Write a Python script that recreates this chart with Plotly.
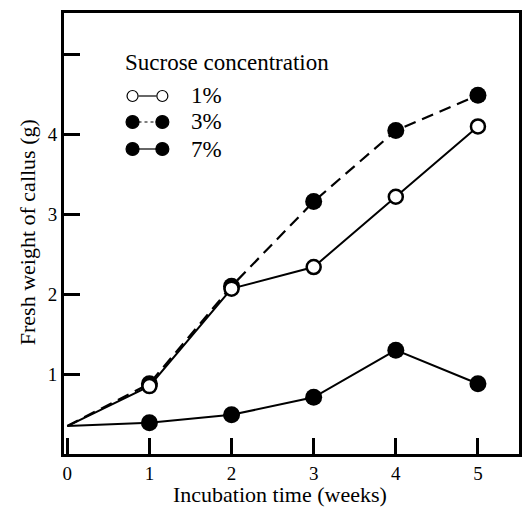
import plotly.graph_objects as go

weeks = [0, 1, 2, 3, 4, 5]
sucrose_1 = [0.35, 0.85, 2.07, 2.34, 3.22, 4.10]
sucrose_3 = [0.35, 0.88, 2.10, 3.16, 4.05, 4.49]
sucrose_7 = [0.35, 0.39, 0.49, 0.71, 1.30, 0.88]
legend_title = "Sucrose concentration"
legend_labels = ["1%", "3%", "7%"]
x_ticks = [0, 1, 2, 3, 4, 5]
y_ticks = [1, 2, 3, 4, 5]
y_ticklabels = ["1", "2", "3", "4", ""]

FONT = "Liberation Serif"
W, H = 525, 508
L, R, T, B = 64, 3, 13, 54

def px(x):
    return (x - L) / (W - L - R)

def py(y):
    return (H - B - y) / (H - T - B)

msize = [0, 17, 17, 17, 17, 17]
osize = [0, 14, 14, 14, 14, 14]

fig = go.Figure()
fig.add_trace(go.Scatter(x=weeks, y=sucrose_3, mode="lines+markers",
                         line=dict(color="black", width=2.2, dash="12px,7px"),
                         marker=dict(size=msize, color="black", opacity=1,
                                     line=dict(width=0)), showlegend=False))
fig.add_trace(go.Scatter(x=weeks, y=sucrose_7, mode="lines+markers",
                         line=dict(color="black", width=2),
                         marker=dict(size=msize, color="black", opacity=1,
                                     line=dict(width=0)), showlegend=False))
fig.add_trace(go.Scatter(x=weeks, y=sucrose_1, mode="lines+markers",
                         line=dict(color="black", width=2),
                         marker=dict(size=osize, color="white", opacity=1,
                                     line=dict(color="black", width=2.5)),
                         showlegend=False))

shapes = []
annotations = []
# legend
annotations.append(dict(text=legend_title, x=px(123), y=py(62), xref="paper", yref="paper",
                        xanchor="left", yanchor="middle", showarrow=False,
                        font=dict(family=FONT, size=23, color="black")))
rows = [96, 122, 149]
styles = [("white", "solid", 1.2), ("black", "dot", 1.2), ("black", "solid", 1.2)]
for (fill, dash, lw), yy, lab in zip(styles, rows, legend_labels):
    shapes.append(dict(type="line", xref="paper", yref="paper",
                       x0=px(139), x1=px(157), y0=py(yy), y1=py(yy),
                       line=dict(color="black", width=lw, dash=dash)))
    for cx in (133, 163):
        r = 5.5 if fill == "white" else 6.5
        shapes.append(dict(type="circle", xref="paper", yref="paper",
                           xsizemode="pixel", ysizemode="pixel",
                           xanchor=px(cx), yanchor=py(yy),
                           x0=-r, x1=r, y0=-r, y1=r,
                           fillcolor=fill, line=dict(color="black", width=1.2)))
    annotations.append(dict(text=lab, x=px(190), y=py(yy), xref="paper", yref="paper",
                            xanchor="left", yanchor="middle", showarrow=False,
                            font=dict(family=FONT, size=23, color="black")))

annotations.append(dict(text="Incubation time (weeks)", x=px(281), y=py(494),
                        xref="paper", yref="paper", xanchor="center", yanchor="middle",
                        showarrow=False, font=dict(family=FONT, size=22, color="black")))
annotations.append(dict(text="Fresh weight of callus (g)", x=px(27), y=py(232),
                        xref="paper", yref="paper", xanchor="center", yanchor="middle",
                        textangle=-90, showarrow=False,
                        font=dict(family=FONT, size=22, color="black")))

fig.update_layout(
    width=W, height=H, margin=dict(l=L, r=R, t=T, b=B),
    paper_bgcolor="white", plot_bgcolor="white",
    shapes=shapes, annotations=annotations,
    xaxis=dict(range=[-0.04, 5.5], tickvals=x_ticks,
               ticktext=["0", "1", "2", "3", "4", "5"],
               ticks="inside", ticklen=16, tickwidth=3, tickcolor="black",
               showline=True, linecolor="black", linewidth=3, mirror=True,
               showgrid=False, zeroline=False,
               tickfont=dict(family=FONT, size=19, color="black")),
    yaxis=dict(range=[0, 5.52], tickvals=y_ticks, ticktext=y_ticklabels,
               ticks="inside", ticklen=16, tickwidth=3, tickcolor="black",
               showline=True, linecolor="black", linewidth=3, mirror=True,
               showgrid=False, zeroline=False,
               tickfont=dict(family=FONT, size=19, color="black")),
)
fig.write_html("out.html")
